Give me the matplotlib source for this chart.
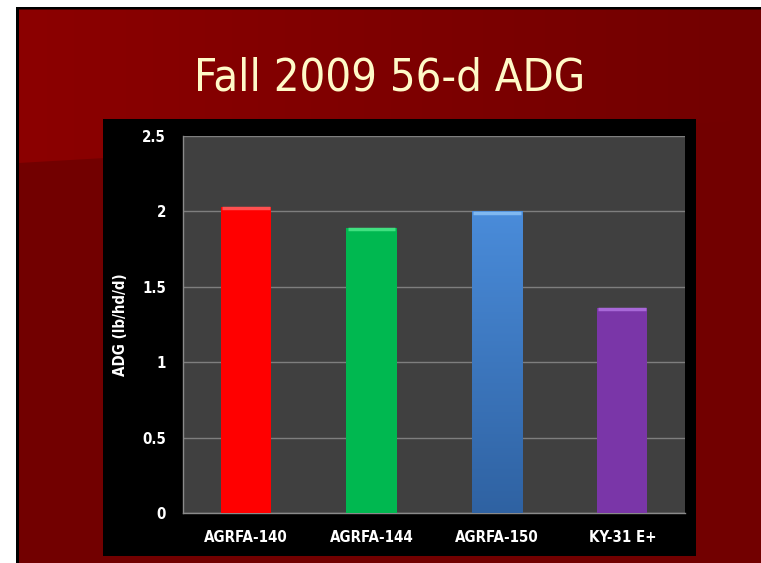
import numpy as np
import matplotlib
matplotlib.use("Agg")
import matplotlib.pyplot as plt
from matplotlib import font_manager as fm
from matplotlib.patches import Rectangle, Polygon
from matplotlib.colors import LinearSegmentedColormap

# ---- data ----
categories = ["AGRFA-140", "AGRFA-144", "AGRFA-150", "KY-31 E+"]
adg_values = [2.03, 1.89, 2.00, 1.36]
bar_colors = ["#FF0000", "#00B850", "#4584D0", "#7A36A8"]
top_colors = ["#FF5050", "#40E080", "#80B8F0", "#A868D8"]
yticks = [0, 0.5, 1, 1.5, 2, 2.5]
ytick_labels = ["0", "0.5", "1", "1.5", "2", "2.5"]
title = "Fall 2009 56-d ADG"
ylabel = "ADG (lb/hd/d)"


def pick_font(cands, **kw):
    for fam, key in cands:
        try:
            path = fm.findfont(fm.FontProperties(family=fam, **kw), fallback_to_default=False)
            if key.lower() in path.lower().replace("-", "").replace("_", ""):
                return fm.FontProperties(fname=path)
        except Exception:
            pass
    return None


title_fp = pick_font([("Liberation Sans Narrow", "narrow"),
                      ("DejaVu Sans", "condensed")], stretch="condensed")
title_size = 32.5
if title_fp is None:
    title_fp = fm.FontProperties(family="DejaVu Sans")
    title_size = 28

bold_fp = pick_font([("DejaVu Sans", "condensedbold")], weight="bold", stretch="condensed")
if bold_fp is None:
    bold_fp = fm.FontProperties(family="DejaVu Sans", weight="bold")
bold_fp.set_size(10.8)

W, H = 761, 563
fig = plt.figure(figsize=(W / 100, H / 100), dpi=100)
fig.patch.set_facecolor("white")

# ---- slide background ----
bg = fig.add_axes([0, 0, 1, 1])
bg.set_xlim(0, W)
bg.set_ylim(H, 0)
bg.axis("off")
bg.add_patch(Rectangle((16, 7), W - 16, H - 7, facecolor="black", edgecolor="none"))
bg.add_patch(Rectangle((18.5, 9.5), W - 18.5, H - 9.5, facecolor="#720000", edgecolor="none"))
cmap_bg = LinearSegmentedColormap.from_list("bgr", ["#8C0000", "#7E0000", "#720000"])
grad = np.linspace(0, 1, 256).reshape(1, -1)
im = bg.imshow(grad, cmap=cmap_bg, extent=(18.5, W, 170, 9.5), aspect="auto", zorder=1)
poly = Polygon([(18.5, 9.5), (W, 9.5), (W, 120), (18.5, 163)], closed=True,
               facecolor="none", edgecolor="none", transform=bg.transData)
bg.add_patch(poly)
im.set_clip_path(poly)

# black chart box
bg.add_patch(Rectangle((103.3, 119), 592.7, 436.7, facecolor="black", edgecolor="none", zorder=2))

tfp = title_fp.copy()
tfp.set_size(title_size)
fig.text(390 / W, 1 - 78 / H, title, ha="center", va="center", color="#FFFAC8",
         fontproperties=tfp)

# ---- chart ----
ax_left, ax_right = 183.3, 685
ax_top, ax_bot = 136, 513.3
ax = fig.add_axes([ax_left / W, 1 - ax_bot / H, (ax_right - ax_left) / W, (ax_bot - ax_top) / H])
ax.set_facecolor("#404040")
x = np.arange(len(categories))
bars = ax.bar(x, adg_values, width=0.4, color=bar_colors, zorder=3, edgecolor="none")

# gradient on the blue bar
blue_cmap = LinearSegmentedColormap.from_list("bl", ["#2F62A2", "#4A8CDA"])
b = bars[2]
gim = ax.imshow(np.linspace(0, 1, 256).reshape(-1, 1), cmap=blue_cmap, origin="lower",
                extent=(b.get_x(), b.get_x() + b.get_width(), 0, b.get_height()),
                aspect="auto", zorder=3.5)
gim.set_clip_path(b)

# subtle top highlights
for bar, tc in zip(bars, top_colors):
    ax.hlines(bar.get_height() - 0.008, bar.get_x() + 0.01, bar.get_x() + bar.get_width() - 0.01,
              color=tc, lw=2.5, zorder=4)

ax.set_xlim(-0.5, len(categories) - 0.5)
ax.set_ylim(0, 2.5)
ax.set_yticks(yticks)
ax.set_yticklabels(ytick_labels, fontproperties=bold_fp, color="white")
ax.set_xticks(x)
ax.set_xticklabels(categories, fontproperties=bold_fp, color="white")
ax.yaxis.grid(True, color="#7E7E7E", lw=1.0, zorder=0)
ax.set_axisbelow(True)
for s in ["top", "right"]:
    ax.spines[s].set_visible(False)
for s in ["left", "bottom"]:
    ax.spines[s].set_color("#8A8A8A")
    ax.spines[s].set_linewidth(1.0)

ax.tick_params(axis="both", length=0)
ax.tick_params(axis="y", pad=12.5)
ax.tick_params(axis="x", pad=12)
ax.set_ylabel(ylabel, color="white", fontproperties=bold_fp)
ax.yaxis.set_label_coords(-(ax_left - 128) / (ax_right - ax_left), 0.5)

fig.savefig("out.png", dpi=100, facecolor=fig.get_facecolor())
